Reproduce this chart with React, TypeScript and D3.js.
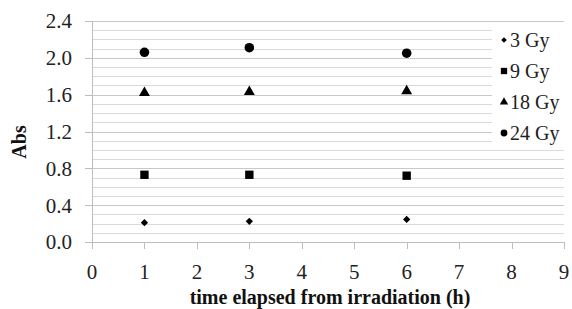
import React from "react";
import * as d3 from "d3";

const times = [1, 3, 6];
const seriesNames = ["3 Gy", "9 Gy", "18 Gy", "24 Gy"];
const gy3 = [0.21, 0.225, 0.245];
const gy9 = [0.73, 0.73, 0.72];
const gy18 = [1.62, 1.63, 1.64];
const gy24 = [2.06, 2.11, 2.05];
const xTicks = [0, 1, 2, 3, 4, 5, 6, 7, 8, 9];
const yTicks = [0, 0.4, 0.8, 1.2, 1.6, 2.0, 2.4];

const W = 572;
const H = 309;
const M = { left: 92, right: 8, top: 21, bottom: 67 };

const symbols = [d3.symbolDiamond2, d3.symbolSquare, d3.symbolTriangle, d3.symbolCircle];
const sizes = [34, 70, 52, 72];
const legendSizes = [20, 40, 30, 36];

export default function App() {
  const x = d3.scaleLinear().domain([0, 9]).range([M.left, W - M.right]);
  const y = d3.scaleLinear().domain([0, 2.4]).range([H - M.bottom, M.top]);
  const minor = d3.range(0, 24.5, 1).map((v) => v / 10);
  const allSeries = [gy3, gy9, gy18, gy24];
  const font = "Liberation Serif, DejaVu Serif, Times New Roman, serif";

  return (
    <svg
      width={W}
      height={H}
      style={{ position: "absolute", left: 0, top: 0, background: "#fff", fontFamily: font }}
    >
      {/* gridlines every 0.1 */}
      {minor.map((v, i) => (
        <line
          key={"g" + i}
          x1={x(0)}
          x2={x(9)}
          y1={Math.round(y(v)) + 0.5}
          y2={Math.round(y(v)) + 0.5}
          stroke={i % 4 === 0 ? "#c8c8c8" : "#dadada"}
          strokeWidth={1}
        />
      ))}
      {/* axes */}
      <line x1={x(0) + 0.5} x2={x(0) + 0.5} y1={y(2.4)} y2={y(0)} stroke="#bdbdbd" />
      <line x1={x(0) - 7} x2={x(9)} y1={Math.round(y(0)) + 0.5} y2={Math.round(y(0)) + 0.5} stroke="#bdbdbd" />
      {yTicks.map((t) => (
        <g key={"yt" + t}>
          <line x1={x(0) - 7} x2={x(0)} y1={Math.round(y(t)) + 0.5} y2={Math.round(y(t)) + 0.5} stroke="#bdbdbd" />
          <text x={72} y={y(t)} dy="0.35em" textAnchor="end" fontSize={21} fill="#222">
            {t.toFixed(1)}
          </text>
        </g>
      ))}
      {xTicks.map((t) => (
        <g key={"xt" + t}>
          <line x1={Math.round(x(t)) + 0.5} x2={Math.round(x(t)) + 0.5} y1={y(0)} y2={y(0) + 7} stroke="#bdbdbd" />
          <text x={x(t)} y={279} textAnchor="middle" fontSize={21} fill="#222">
            {t}
          </text>
        </g>
      ))}
      <text
        transform={`translate(26, ${142}) rotate(-90)`}
        textAnchor="middle"
        fontSize={20}
        fontWeight="bold"
        fill="#111"
      >
        Abs
      </text>
      <text x={(x(0) + x(9)) / 2 + 2} y={304} textAnchor="middle" fontSize={20} fontWeight="bold" fill="#111">
        time elapsed from irradiation (h)
      </text>
      {/* points */}
      {allSeries.map((vals, si) =>
        vals.map((v, i) => (
          <path
            key={"p" + si + "-" + i}
            d={d3.symbol().type(symbols[si]).size(sizes[si])() || ""}
            transform={`translate(${x(times[i])}, ${y(v)})`}
            fill="#000"
          />
        ))
      )}
      {/* legend */}
      <rect x={492} y={26} width={72} height={122} fill="#fff" />
      {seriesNames.map((name, i) => (
        <g key={"l" + i} transform={`translate(504, ${40 + i * 31})`}>
          <path d={d3.symbol().type(symbols[i]).size(legendSizes[i])() || ""} fill="#000" />
          <text x={6} y={0} dy="0.35em" fontSize={20} fill="#222">
            {name}
          </text>
        </g>
      ))}
    </svg>
  );
}
